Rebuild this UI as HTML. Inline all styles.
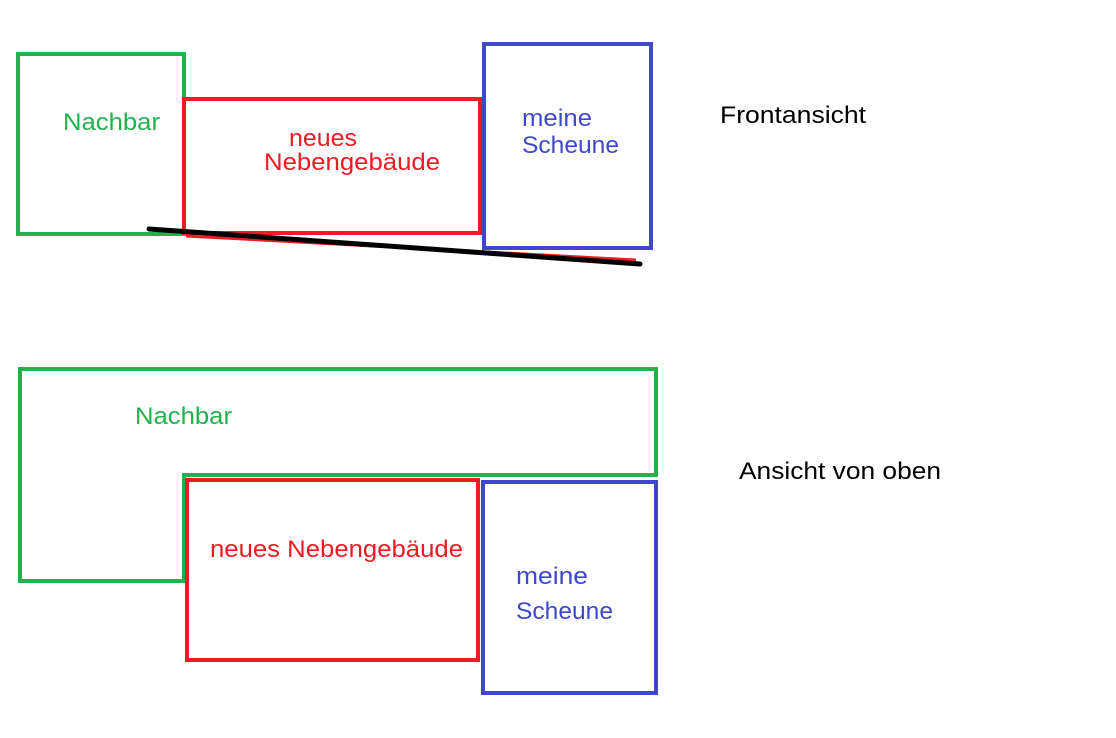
<!DOCTYPE html>
<html><head><meta charset="utf-8"><style>
html,body{margin:0;padding:0;background:#fff;}
svg{display:block;}
text{font-family:"Liberation Sans",sans-serif;font-size:24px;}
</style></head><body>
<svg width="1116" height="738" viewBox="0 0 1116 738" xmlns="http://www.w3.org/2000/svg">
<rect x="0" y="0" width="1116" height="738" fill="#fff"/>
<rect x="18" y="54" width="166" height="180" fill="none" stroke="#22b14c" stroke-width="4"/>
<rect x="184" y="99" width="296" height="134" fill="none" stroke="#ed1c24" stroke-width="4"/>
<rect x="484" y="44" width="167" height="204" fill="none" stroke="#3f48cc" stroke-width="4"/>
<line x1="186" y1="236" x2="636" y2="260" stroke="#ed1c24" stroke-width="3"/>
<line x1="149" y1="229" x2="640" y2="264" stroke="#000" stroke-width="5" stroke-linecap="round"/>
<text x="63" y="130" fill="#22b14c" textLength="97" lengthAdjust="spacingAndGlyphs">Nachbar</text>
<text x="289" y="146" fill="#ed1c24" textLength="68" lengthAdjust="spacingAndGlyphs">neues</text>
<text x="264" y="170" fill="#ed1c24" textLength="176" lengthAdjust="spacingAndGlyphs">Nebengebäude</text>
<text x="522" y="126" fill="#3f48cc" textLength="70" lengthAdjust="spacingAndGlyphs">meine</text>
<text x="522" y="153" fill="#3f48cc" textLength="97" lengthAdjust="spacingAndGlyphs">Scheune</text>
<text x="720" y="123" fill="#000" textLength="146" lengthAdjust="spacingAndGlyphs">Frontansicht</text>
<path d="M20 369 H656 V475 H184 V581 H20 Z" fill="none" stroke="#22b14c" stroke-width="4"/>
<rect x="187" y="480" width="291" height="180" fill="none" stroke="#ed1c24" stroke-width="4"/>
<rect x="483" y="482" width="173" height="211" fill="none" stroke="#3f48cc" stroke-width="4"/>
<text x="135" y="424" fill="#22b14c" textLength="97" lengthAdjust="spacingAndGlyphs">Nachbar</text>
<text x="210" y="557" fill="#ed1c24" textLength="253" lengthAdjust="spacingAndGlyphs">neues Nebengebäude</text>
<text x="516" y="584" fill="#3f48cc" textLength="72" lengthAdjust="spacingAndGlyphs">meine</text>
<text x="516" y="619" fill="#3f48cc" textLength="97" lengthAdjust="spacingAndGlyphs">Scheune</text>
<text x="739" y="479" fill="#000" textLength="202" lengthAdjust="spacingAndGlyphs">Ansicht von oben</text>
</svg>
</body></html>
